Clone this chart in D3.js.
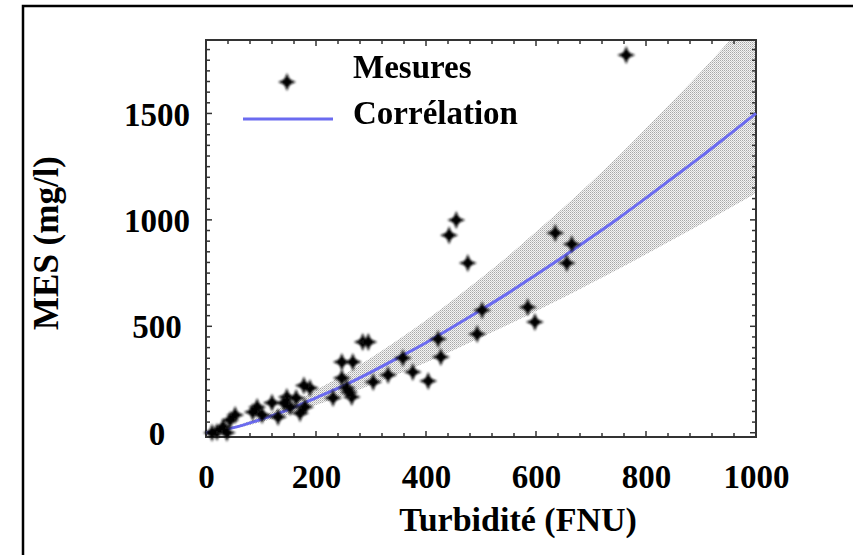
<!DOCTYPE html>
<html><head><meta charset="utf-8">
<script src="https://cdn.jsdelivr.net/npm/d3@7"></script>
<style>body{margin:0;background:#fff}</style>
</head><body><svg id="c" width="853" height="555"></svg>
<script>
// ---- data ----
const curveX = [0,50,100,150,200,250,300,350,400,450,500,550,600,650,700,750,800,850,900,950,1000];
const curveY = [0,24,63,109,164,221,285,353,423,499,577,657,742,828,917,1008,1103,1200,1297,1398,1500];
const bandX = [0,50,100,150,200,250,300,350,400,450,500,550,600,650,700,750,800,850,900,950,1000];
const bandHigh = [0,29,76,133,201,272,352,438,528,626,727,832,944,1058,1177,1300,1430,1562,1696,1837,1980];
const bandLow = [0,19,50,86,130,174,224,276,330,388,447,508,571,635,702,769,838,909,979,1052,1125];
const measX = [455,442,476,635,665,656,502,493,585,598,422,427,358,376,404,331,304,285,295,247,267,247,256,231,265,189,178,147,153,131,180,171,93,85,102,53,44,31,20,11,38,764,120,164,260,142];
const measY = [999,928,797,938,886,797,576,464,590,520,440,356,351,285,243,271,238,426,426,332,332,257,210,163,168,210,222,168,121,74,121,92,121,97,83,83,60,27,3,0,0,1774,141,163,190,140];
const xTicks = [0,200,400,600,800,1000];
const yTicks = [0,500,1000,1500];
const legendLabels = ["Mesures","Corrélation"];
const xTitle = "Turbidité (FNU)";
const yTitle = "MES (mg/l)";

// ---- layout ----
const L = 206, R = 756, T = 40, B = 437;
const svg = d3.select("#c");
const font = "'Liberation Serif','Times New Roman',serif";
const x = d3.scaleLinear().domain([0,1000]).range([L,R]);
const y = d3.scaleLinear().domain([-20,1845]).range([B,T]);

const defs = svg.append("defs");
const pat = defs.append("pattern").attr("id","dots").attr("width",2).attr("height",2).attr("patternUnits","userSpaceOnUse");
pat.append("rect").attr("width",2).attr("height",2).attr("fill","#f4f4f4");
pat.append("rect").attr("width",1).attr("height",1).attr("fill","#a8a8a8");
pat.append("rect").attr("x",1).attr("y",1).attr("width",1).attr("height",1).attr("fill","#c8c8c8");
defs.append("clipPath").attr("id","clip").append("rect").attr("x",L).attr("y",T).attr("width",R-L).attr("height",B-T);
const blur = defs.append("filter").attr("id","blur").attr("x","-50%").attr("y","-50%").attr("width","200%").attr("height","200%");
blur.append("feGaussianBlur").attr("stdDeviation",1.1);

// outer border
svg.append("path").attr("d",`M23,555 L23,6 L853,6`).attr("fill","none").attr("stroke","#000").attr("stroke-width",2.5);

// band
const bandData = bandX.map((v,i)=>({x:v,lo:bandLow[i],hi:bandHigh[i]}));
svg.append("path").datum(bandData).attr("clip-path","url(#clip)")
  .attr("d",d3.area().x(d=>x(d.x)).y0(d=>y(d.lo)).y1(d=>y(d.hi)).curve(d3.curveMonotoneX))
  .attr("fill","url(#dots)");

// frame
svg.append("rect").attr("x",L).attr("y",T).attr("width",R-L).attr("height",B-T)
  .attr("fill","none").attr("stroke","#333").attr("stroke-width",2);

// ticks inward
const xMinor = d3.range(0,1001,40), yMinor = d3.range(0,1846,50);
const tg = svg.append("g").attr("stroke","#333").attr("stroke-width",1.5);
xMinor.forEach(v=>{
  const len = v%200===0?6:4;
  tg.append("line").attr("x1",x(v)).attr("x2",x(v)).attr("y1",B).attr("y2",B-len);
  tg.append("line").attr("x1",x(v)).attr("x2",x(v)).attr("y1",T).attr("y2",T+len);
});
yMinor.forEach(v=>{
  const len = v%500===0?6:4;
  tg.append("line").attr("x1",L).attr("x2",L+len).attr("y1",y(v)).attr("y2",y(v));
  tg.append("line").attr("x1",R).attr("x2",R-len).attr("y1",y(v)).attr("y2",y(v));
});

// axes labels
const xa = svg.append("g").attr("transform",`translate(0,${B})`)
  .call(d3.axisBottom(x).tickValues(xTicks).tickSize(0).tickPadding(0).tickFormat(d3.format("d")));
xa.select(".domain").remove();
xa.selectAll("text").attr("dy",null).attr("y",51).attr("font-family",font).attr("font-weight","bold").attr("font-size",33).attr("fill","#000");

const ya = svg.append("g").attr("transform",`translate(157,0)`)
  .call(d3.axisLeft(y).tickValues(yTicks).tickSize(0).tickPadding(0).tickFormat(d3.format("d")));
ya.select(".domain").remove();
ya.selectAll("text").attr("dy","0.35em").attr("text-anchor","middle").attr("font-family",font).attr("font-weight","bold").attr("font-size",33).attr("fill","#000");

svg.append("text").attr("x",518).attr("y",531).attr("text-anchor","middle")
  .attr("font-family",font).attr("font-weight","bold").attr("font-size",34).text(xTitle);
svg.append("text").attr("transform","translate(58,243) rotate(-90)").attr("text-anchor","middle")
  .attr("font-family",font).attr("font-weight","bold").attr("font-size",35).text(yTitle);

// correlation line
const cData = curveX.map((v,i)=>({x:v,y:curveY[i]}));
svg.append("path").datum(cData).attr("d",d3.line().x(d=>x(d.x)).y(d=>y(d.y)).curve(d3.curveMonotoneX))
  .attr("fill","none").attr("stroke","#6b6bf0").attr("stroke-width",3);

// markers
const star4 = {draw(ctx,size){const r=Math.sqrt(size)/2, w=r*0.3;
  ctx.moveTo(0,-r);ctx.lineTo(w,-w);ctx.lineTo(r,0);ctx.lineTo(w,w);ctx.lineTo(0,r);ctx.lineTo(-w,w);ctx.lineTo(-r,0);ctx.lineTo(-w,-w);ctx.closePath();}};
const sym = d3.symbol().type(star4).size(324);
const mg = svg.append("g").attr("filter","url(#blur)");
measX.forEach((v,i)=>{
  const g = mg.append("g").attr("transform",`translate(${x(v)},${y(measY[i])})`);
  g.append("path").attr("d",sym()).attr("fill","#111");
  g.append("circle").attr("r",4).attr("fill","#000");
});

// legend
const lg = svg.append("g");
const lm = lg.append("g").attr("filter","url(#blur)").attr("transform","translate(287,82)");
lm.append("path").attr("d",sym()).attr("fill","#111");
lm.append("circle").attr("r",4).attr("fill","#000");
lg.append("line").attr("x1",243).attr("x2",333).attr("y1",119).attr("y2",119).attr("stroke","#6b6bf0").attr("stroke-width",3);
lg.selectAll("text.leg").data(legendLabels).join("text").attr("class","leg")
  .attr("x",353).attr("y",(d,i)=>i===0?78:124)
  .attr("font-family",font).attr("font-weight","bold").attr("font-size",33).text(d=>d);
</script></body></html>
